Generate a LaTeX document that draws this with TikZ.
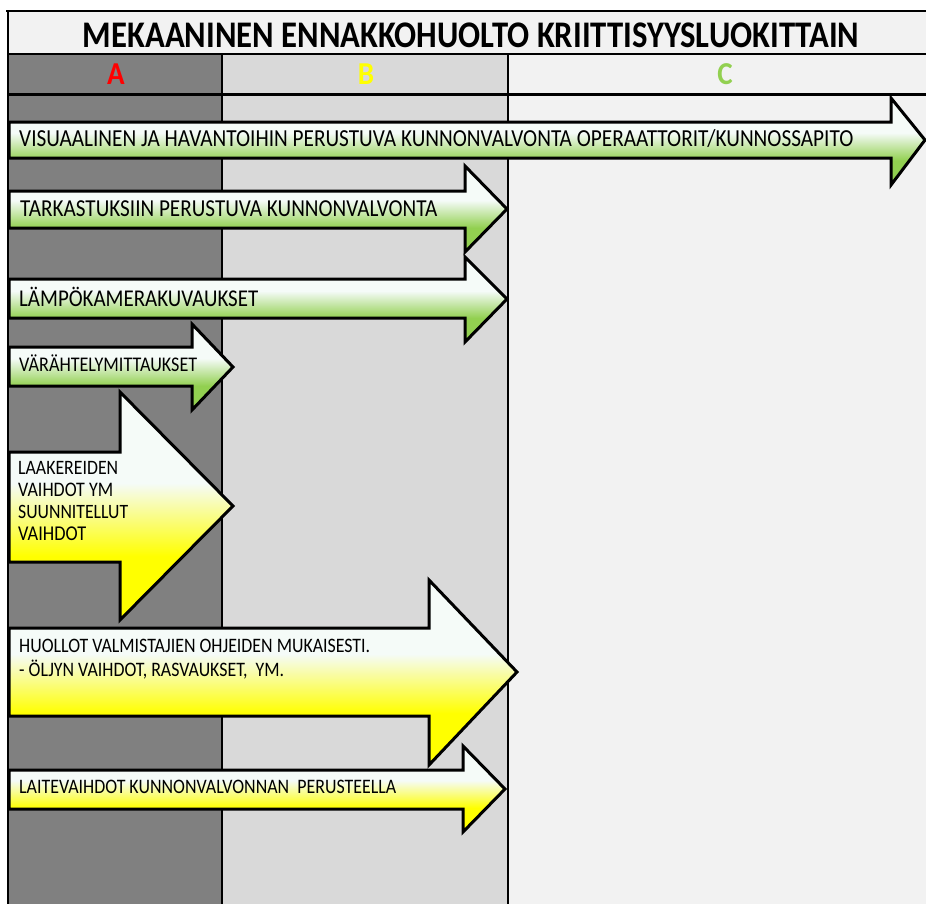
\documentclass[tikz,border=0pt]{standalone}
\usepackage{fontspec}
\setmainfont{Carlito}
\usepackage{graphicx}
\definecolor{colA}{RGB}{128,128,128}
\definecolor{colB}{RGB}{217,217,217}
\definecolor{colC}{RGB}{242,242,242}
\definecolor{agreen}{RGB}{146,208,80}
\definecolor{ayellow}{RGB}{255,255,0}
\definecolor{atop}{RGB}{245,251,248}
\definecolor{hred}{RGB}{255,0,0}
\definecolor{hyellow}{RGB}{255,255,0}
\definecolor{hgreen}{RGB}{146,208,80}
\pgfdeclareverticalshading{greenfill}{100bp}{color(0bp)=(agreen); color(25bp)=(agreen); color(39bp)=(agreen); color(55bp)=(atop); color(75bp)=(atop); color(100bp)=(atop)}
\pgfdeclareverticalshading{yellowfill}{100bp}{color(0bp)=(ayellow); color(25bp)=(ayellow); color(39bp)=(ayellow); color(55bp)=(atop); color(75bp)=(atop); color(100bp)=(atop)}
\newcommand{\fitw}[2]{\scalebox{1}[1.15]{\resizebox{#1}{!}{#2}}}
\tikzset{
  garrow/.style={shading=greenfill, draw=black, line width=3pt, line join=miter},
  yarrow/.style={shading=yellowfill, draw=black, line width=3pt, line join=miter},
  atext/.style={anchor=base west, inner sep=0pt, text=black},
  htext/.style={anchor=base, inner sep=0pt, font=\fontsize{29}{29}\selectfont\bfseries},
}
\begin{document}
\begin{tikzpicture}[x=1pt,y=-1pt]
\useasboundingbox (0,0) rectangle (926,903);
\fill[white] (0,0) rectangle (926,903);
% fills
\fill[colC] (8,11) rectangle (935,54);
\fill[colA] (8,54) rectangle (222,910);
\fill[colB] (222,54) rectangle (508,910);
\fill[colC] (508,54) rectangle (935,910);
% grid lines
\draw[line width=2.5pt] (6,11) -- (935,11);
\draw[line width=2.5pt] (8,54) -- (935,54);
\draw[line width=3pt] (8,94) -- (935,94);
\draw[line width=2pt] (8,10) -- (8,910);
\draw[line width=1.5pt] (222,54) -- (222,910);
\draw[line width=1.5pt] (508,54) -- (508,910);
% title and headers
\node[anchor=base, inner sep=0pt] (title) at (471,47) {\fitw{776pt}{\bfseries MEKAANINEN ENNAKKOHUOLTO KRIITTISYYSLUOKITTAIN}};
\node[htext, text=hred] (hA) at (116,84) {\scalebox{1}[1.1]{A}};
\node[htext, text=hyellow] (hB) at (366,84) {\scalebox{1}[1.1]{B}};
\node[htext, text=hgreen] (hC) at (725,84) {\scalebox{1}[1.1]{C}};
% arrows
\shade[garrow] (9,122) -- (891,122) -- (891,98) -- (925,140) -- (891,185) -- (891,158) -- (9,158) -- cycle;
\shade[garrow] (9,191) -- (465,191) -- (465,166) -- (507,209) -- (465,252) -- (465,228) -- (9,228) -- cycle;
\shade[garrow] (9,279) -- (465,279) -- (465,257) -- (507,299) -- (465,342) -- (465,318) -- (9,318) -- cycle;
\shade[garrow] (9,347) -- (192,347) -- (192,324) -- (233,367) -- (192,410) -- (192,386) -- (9,386) -- cycle;
\shade[yarrow] (9,452) -- (120,452) -- (120,392) -- (233,506) -- (120,620) -- (120,562) -- (9,562) -- cycle;
\shade[yarrow] (9,628) -- (429,628) -- (429,580) -- (517,672) -- (429,765) -- (429,716) -- (9,716) -- cycle;
\shade[yarrow] (9,770) -- (463,770) -- (463,746) -- (505,789) -- (463,832) -- (463,809) -- (9,809) -- cycle;
% arrow texts
\node[atext] (t1) at (19,146.7) {\fitw{834pt}{VISUAALINEN JA HAVANTOIHIN PERUSTUVA KUNNONVALVONTA OPERAATTORIT/KUNNOSSAPITO}};
\node[atext] (t2) at (20,216) {\fitw{417pt}{TARKASTUKSIIN PERUSTUVA KUNNONVALVONTA}};
\node[atext] (t3) at (19,306.7) {\fitw{239pt}{LÄMPÖKAMERAKUVAUKSET}};
\node[atext] (t4) at (19,371) {\fitw{178pt}{VÄRÄHTELYMITTAUKSET}};
\node[atext] (t5a) at (18,474) {\fitw{100pt}{LAAKEREIDEN}};
\node[atext] (t5b) at (18,496) {\fitw{95pt}{VAIHDOT YM}};
\node[atext] (t5c) at (18,518) {\fitw{110pt}{SUUNNITELLUT}};
\node[atext] (t5d) at (18,540) {\fitw{68pt}{VAIHDOT}};
\node[atext] (t6a) at (19,652) {\fitw{351pt}{HUOLLOT VALMISTAJIEN OHJEIDEN MUKAISESTI.}};
\node[atext] (t6b) at (19,676) {\fitw{265pt}{- ÖLJYN VAIHDOT, RASVAUKSET,\ \ YM.}};
\node[atext] (t7) at (19,793.7) {\fitw{377pt}{LAITEVAIHDOT KUNNONVALVONNAN\ \ PERUSTEELLA}};
\end{tikzpicture}
\end{document}
